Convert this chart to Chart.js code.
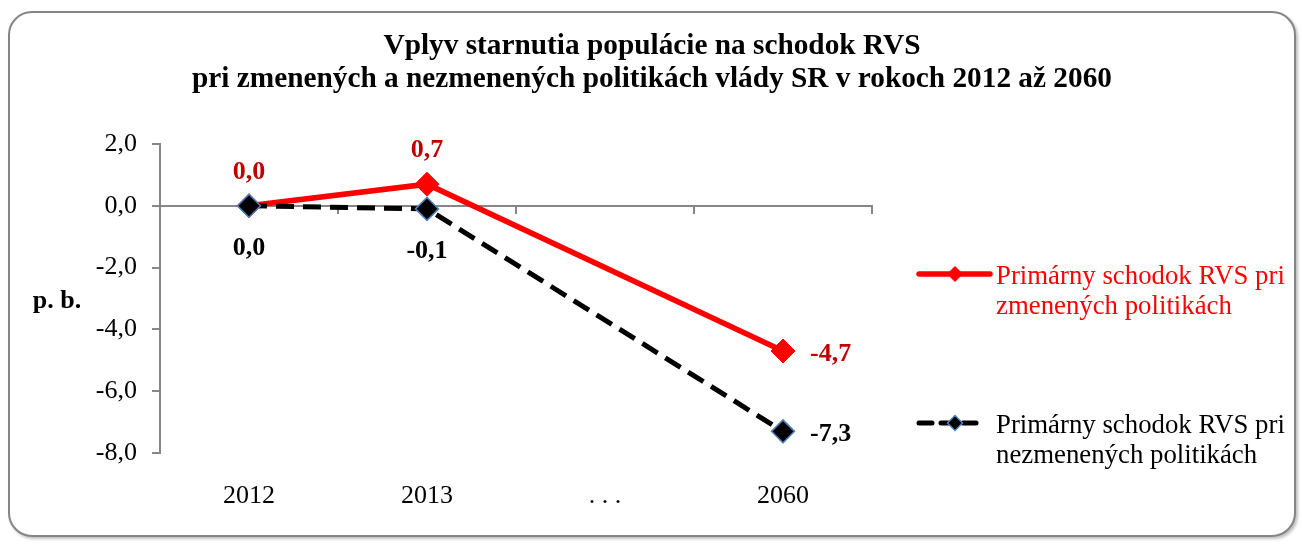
<!DOCTYPE html>
<html><head><meta charset="utf-8">
<script src="https://cdn.jsdelivr.net/npm/chart.js@4.4.0/dist/chart.umd.min.js"></script>
<style>
html,body{margin:0;padding:0;background:#fff;}
#wrap{position:relative;width:1302px;height:544px;overflow:hidden;}
#frame{position:absolute;left:8px;top:11px;width:1288px;height:526px;box-sizing:border-box;border:2px solid #858585;border-radius:24px;box-shadow:2px 2px 3px rgba(0,0,0,0.25);background:#fff;}
canvas{position:absolute;left:0;top:0;}
</style></head><body>
<div id="wrap"><div id="frame"></div><canvas id="c" width="1302" height="544"></canvas></div>
<script>
const categories = ['2012', '2013', '. . .', '2060'];
const seriesNames = ['Primárny schodok RVS pri zmenených politikách', 'Primárny schodok RVS pri nezmenených politikách'];
const changedPolicies = [0.0, 0.7, null, -4.7];
const unchangedPolicies = [0.0, -0.1, null, -7.3];
const yMin = -8, yMax = 2, yStep = 2;
const titleLines = ['Vplyv starnutia populácie na schodok RVS', 'pri zmenených a nezmenených politikách vlády SR v rokoch 2012 až 2060'];
const yAxisLabel = 'p. b.';

const FONT = "'Liberation Serif', 'Times New Roman', serif";
const fmt = v => v.toFixed(1).replace('.', ',');
const wrapName = s => { const w = s.split(' '); return [w.slice(0, 4).join(' '), w.slice(4).join(' ')]; };

function diamond(ctx, x, y, r, fill, stroke, lw) {
  ctx.beginPath();
  ctx.moveTo(x, y - r); ctx.lineTo(x + r, y); ctx.lineTo(x, y + r); ctx.lineTo(x - r, y); ctx.closePath();
  ctx.fillStyle = fill; ctx.fill();
  if (lw) { ctx.setLineDash([]); ctx.lineWidth = lw; ctx.strokeStyle = stroke; ctx.stroke(); }
}

const extras = {
  id: 'extras',
  afterDatasetsDraw(chart) {
    const ctx = chart.ctx;
    ctx.save();
    ctx.font = 'bold 26px ' + FONT;
    chart.data.datasets.forEach((ds, di) => {
      const meta = chart.getDatasetMeta(di);
      meta.data.forEach((pt, i) => {
        const v = ds.data[i];
        if (v === null || v === undefined) return;
        const place = ds.labelPlace[i];
        ctx.fillStyle = ds.labelColor;
        let x = pt.x, y = pt.y;
        if (place === 'above') { ctx.textAlign = 'center'; y = y - 36; }
        else if (place === 'below') { ctx.textAlign = 'center'; y = y + 40; }
        else { ctx.textAlign = 'left'; x = x + 27; y = y + 1; }
        ctx.textBaseline = 'alphabetic';
        ctx.fillText(fmt(v), x, y + 9);
      });
    });
    ctx.restore();
  },
  afterDraw(chart) {
    const ctx = chart.ctx, a = chart.chartArea;
    ctx.save();
    // title
    ctx.font = 'bold 29.3px ' + FONT;
    ctx.fillStyle = '#000';
    ctx.textAlign = 'center';
    ctx.textBaseline = 'alphabetic';
    titleLines.forEach((ln, k) => ctx.fillText(ln, chart.width / 2 + 1, 54 + k * 33));
    // axis title
    ctx.font = 'bold 26px ' + FONT;
    ctx.fillText(yAxisLabel, a.left - 103, (a.top + a.bottom) / 2 + 9);
    // legend
    const items = [
      { ds: chart.data.datasets[0], y: a.top + 130, x2: a.right + 118, dash: [] },
      { ds: chart.data.datasets[1], y: a.top + 279, x2: a.right + 109, dash: [13, 9] }
    ];
    const lx = a.right + 47;
    items.forEach(it => {
      ctx.save();
      ctx.strokeStyle = it.ds.borderColor;
      ctx.lineWidth = it.ds.borderWidth;
      ctx.lineCap = 'round';
      ctx.setLineDash(it.dash);
      ctx.beginPath(); ctx.moveTo(lx, it.y); ctx.lineTo(it.x2, it.y); ctx.stroke();
      ctx.restore();
      diamond(ctx, lx + 36, it.y, 7.5, it.ds.pointBackgroundColor, it.ds.pointBorderColor, it.ds.pointBorderWidth);
      ctx.font = '26.8px ' + FONT;
      ctx.fillStyle = it.ds.legendColor;
      ctx.textAlign = 'left';
      ctx.textBaseline = 'alphabetic';
      const lines = wrapName(it.ds.label);
      lines.forEach((ln, k) => ctx.fillText(ln, lx + 77, it.y + 10 + k * 30));
    });
    ctx.restore();
  }
};

new Chart(document.getElementById('c'), {
  type: 'line',
  data: {
    labels: categories,
    datasets: [
      {
        label: seriesNames[0], data: changedPolicies,
        borderColor: '#FF0000', backgroundColor: '#FF0000', borderWidth: 5.5,
        pointStyle: 'rectRot', pointRadius: 12, pointBackgroundColor: '#FF0000',
        pointBorderColor: '#FF0000', pointBorderWidth: 1, spanGaps: true, tension: 0, order: 2,
        labelColor: '#C00000', legendColor: '#FF0000', labelPlace: ['above', 'above', null, 'right']
      },
      {
        label: seriesNames[1], data: unchangedPolicies,
        borderColor: '#000000', backgroundColor: '#000000', borderWidth: 5, borderDash: [18, 9],
        pointStyle: 'rectRot', pointRadius: 11.5, pointBackgroundColor: '#000000',
        pointBorderColor: '#4F81BD', pointBorderWidth: 1.5, spanGaps: true, tension: 0, order: 1,
        labelColor: '#000000', legendColor: '#000000', labelPlace: ['below', 'below', null, 'right']
      }
    ]
  },
  options: {
    responsive: false,
    animation: false,
    events: [],
    layout: { padding: { left: 0, right: 430, top: 144, bottom: 31 } },
    plugins: {
      legend: { display: false },
      tooltip: { enabled: false },
      title: { display: false }
    },
    scales: {
      x: {
        type: 'category', offset: true, position: 'bottom',
        border: { display: false },
        grid: { display: false, drawTicks: false },
        ticks: { color: '#000', font: { family: FONT, size: 26 }, padding: 28, maxRotation: 0, autoSkip: false },
        afterFit: s => { s.height = 60; }
      },
      x0: {
        type: 'category', offset: true, position: { y: 0 },
        border: { display: true, color: '#868686', width: 2 },
        grid: { display: true, offset: true, drawOnChartArea: false, drawTicks: true, tickLength: 7, color: '#868686', lineWidth: 2 },
        ticks: { display: false }
      },
      y: {
        min: yMin, max: yMax,
        border: { color: '#868686', width: 2 },
        grid: { drawOnChartArea: false, drawTicks: true, tickLength: 8, color: '#868686', lineWidth: 2 },
        ticks: { stepSize: yStep, color: '#000', font: { family: FONT, size: 26 }, padding: 15, callback: v => fmt(v) },
        afterFit: s => { s.width = 160; }
      }
    }
  },
  plugins: [extras]
});
</script>
</body></html>
